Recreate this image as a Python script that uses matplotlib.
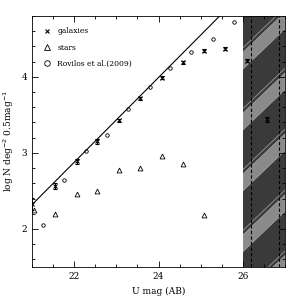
import numpy as np
import matplotlib
matplotlib.use("Agg")
import matplotlib.pyplot as plt
from matplotlib.patches import Polygon
from matplotlib.lines import Line2D

# galaxy counts (x markers with errors)
gal_mag = [21.0, 21.55, 22.07, 22.55, 23.07, 23.57, 24.07, 24.57, 25.08, 25.57, 26.09, 26.58]
gal_logn = [2.33, 2.57, 2.89, 3.15, 3.43, 3.72, 3.99, 4.19, 4.34, 4.37, 4.21, 3.44]
gal_err = [0.08, 0.04, 0.03, 0.03, 0.02, 0.02, 0.02, 0.02, 0.02, 0.02, 0.02, 0.03]

# star counts
star_mag = [21.05, 21.55, 22.07, 22.55, 23.05, 23.57, 24.07, 24.57, 25.08]
star_logn = [2.25, 2.19, 2.46, 2.50, 2.77, 2.80, 2.96, 2.86, 2.18]

# Rovilos et al. (2009)
rov_mag = [21.26, 21.75, 22.27, 22.77, 23.27, 23.79, 24.28, 24.78, 25.28, 25.78]
rov_logn = [2.05, 2.64, 3.02, 3.24, 3.57, 3.86, 4.11, 4.33, 4.50, 4.72]

# straight-line fit
fit_a = 2.32
fit_b = 0.557
fit_x0 = 21.0

# incompleteness region
mask_lo = 26.0
mask_hi = 27.0
dash_lines = [26.2, 26.86]

plt.rcParams['font.family'] = 'DejaVu Serif'

fig = plt.figure(figsize=(3, 3), dpi=100)
ax = fig.add_axes([0.107, 0.11, 0.843, 0.837])

# shaded region with broad diagonal stripes
span = ax.axvspan(mask_lo, mask_hi, color='#3a3a3a', lw=0, zorder=0)
rise = 0.53
band = 0.22
for k in range(0, 7):
    y0 = 0.1 + k * 0.8
    poly = Polygon([(mask_lo, y0), (mask_hi, y0 + rise), (mask_hi, y0 + rise + band), (mask_lo, y0 + band)],
                   closed=True, facecolor='#8a8a8a', edgecolor='#a8a8a8', lw=0.5, zorder=0.5)
    ax.add_patch(poly)
    poly.set_clip_path(span)
    ln, = ax.plot([mask_lo, mask_hi], [y0 + band + 0.06, y0 + band + 0.06 + rise],
                  color='#9a9a9a', lw=0.6, zorder=0.5)
    ln.set_clip_path(span)
for xd in dash_lines:
    ax.axvline(xd, color='black', ls=(0, (3, 2)), lw=0.8, zorder=1)

xx = np.array([fit_x0, 26.0])
ax.plot(xx, fit_a + fit_b * (xx - fit_x0), color='black', lw=0.8, zorder=2)

ax.errorbar(gal_mag, gal_logn, yerr=gal_err, fmt='x', color='black', ms=3.5, mew=0.8,
            elinewidth=0.7, capsize=1.5, zorder=3)
ax.plot(star_mag, star_logn, '^', mfc='none', mec='black', ms=3.5, mew=0.6, ls='none', zorder=3)
ax.plot(rov_mag, rov_logn, 'o', mfc='none', mec='black', ms=2.5, mew=0.6, ls='none', zorder=3)

ax.set_xlim(21, 27)
ax.set_ylim(1.5, 4.8)
ax.set_xticks([22, 24, 26])
ax.set_xticks(np.arange(21, 27.01, 0.5), minor=True)
ax.set_yticks([2, 3, 4])
ax.set_yticks(np.arange(1.6, 4.81, 0.2), minor=True)
ax.tick_params(which='both', direction='in', top=True, right=True, labelsize=6.5, width=0.6)
ax.tick_params(which='major', length=4)
ax.tick_params(which='minor', length=2)
for s in ax.spines.values():
    s.set_linewidth(0.6)

ax.set_xlabel('U mag (AB)', fontsize=6.5, labelpad=4)
ax.set_ylabel('log N deg$^{-2}$ 0.5mag$^{-1}$', fontsize=6.5, labelpad=4)

handles = [
    Line2D([], [], marker='x', color='black', ls='none', ms=3.5, mew=0.8),
    Line2D([], [], marker='^', mfc='none', mec='black', ls='none', ms=4, mew=0.6),
    Line2D([], [], marker='o', mfc='none', mec='black', ls='none', ms=4, mew=0.6),
]
labels = ['galaxies', 'stars', 'Rovilos et al.(2009)']
ax.legend(handles, labels, loc='upper left', frameon=False, fontsize=5.5, handletextpad=0.8,
          labelspacing=1.1, borderaxespad=0.9, handlelength=1.0, borderpad=0.6)

fig.savefig('out.png', dpi=100)
